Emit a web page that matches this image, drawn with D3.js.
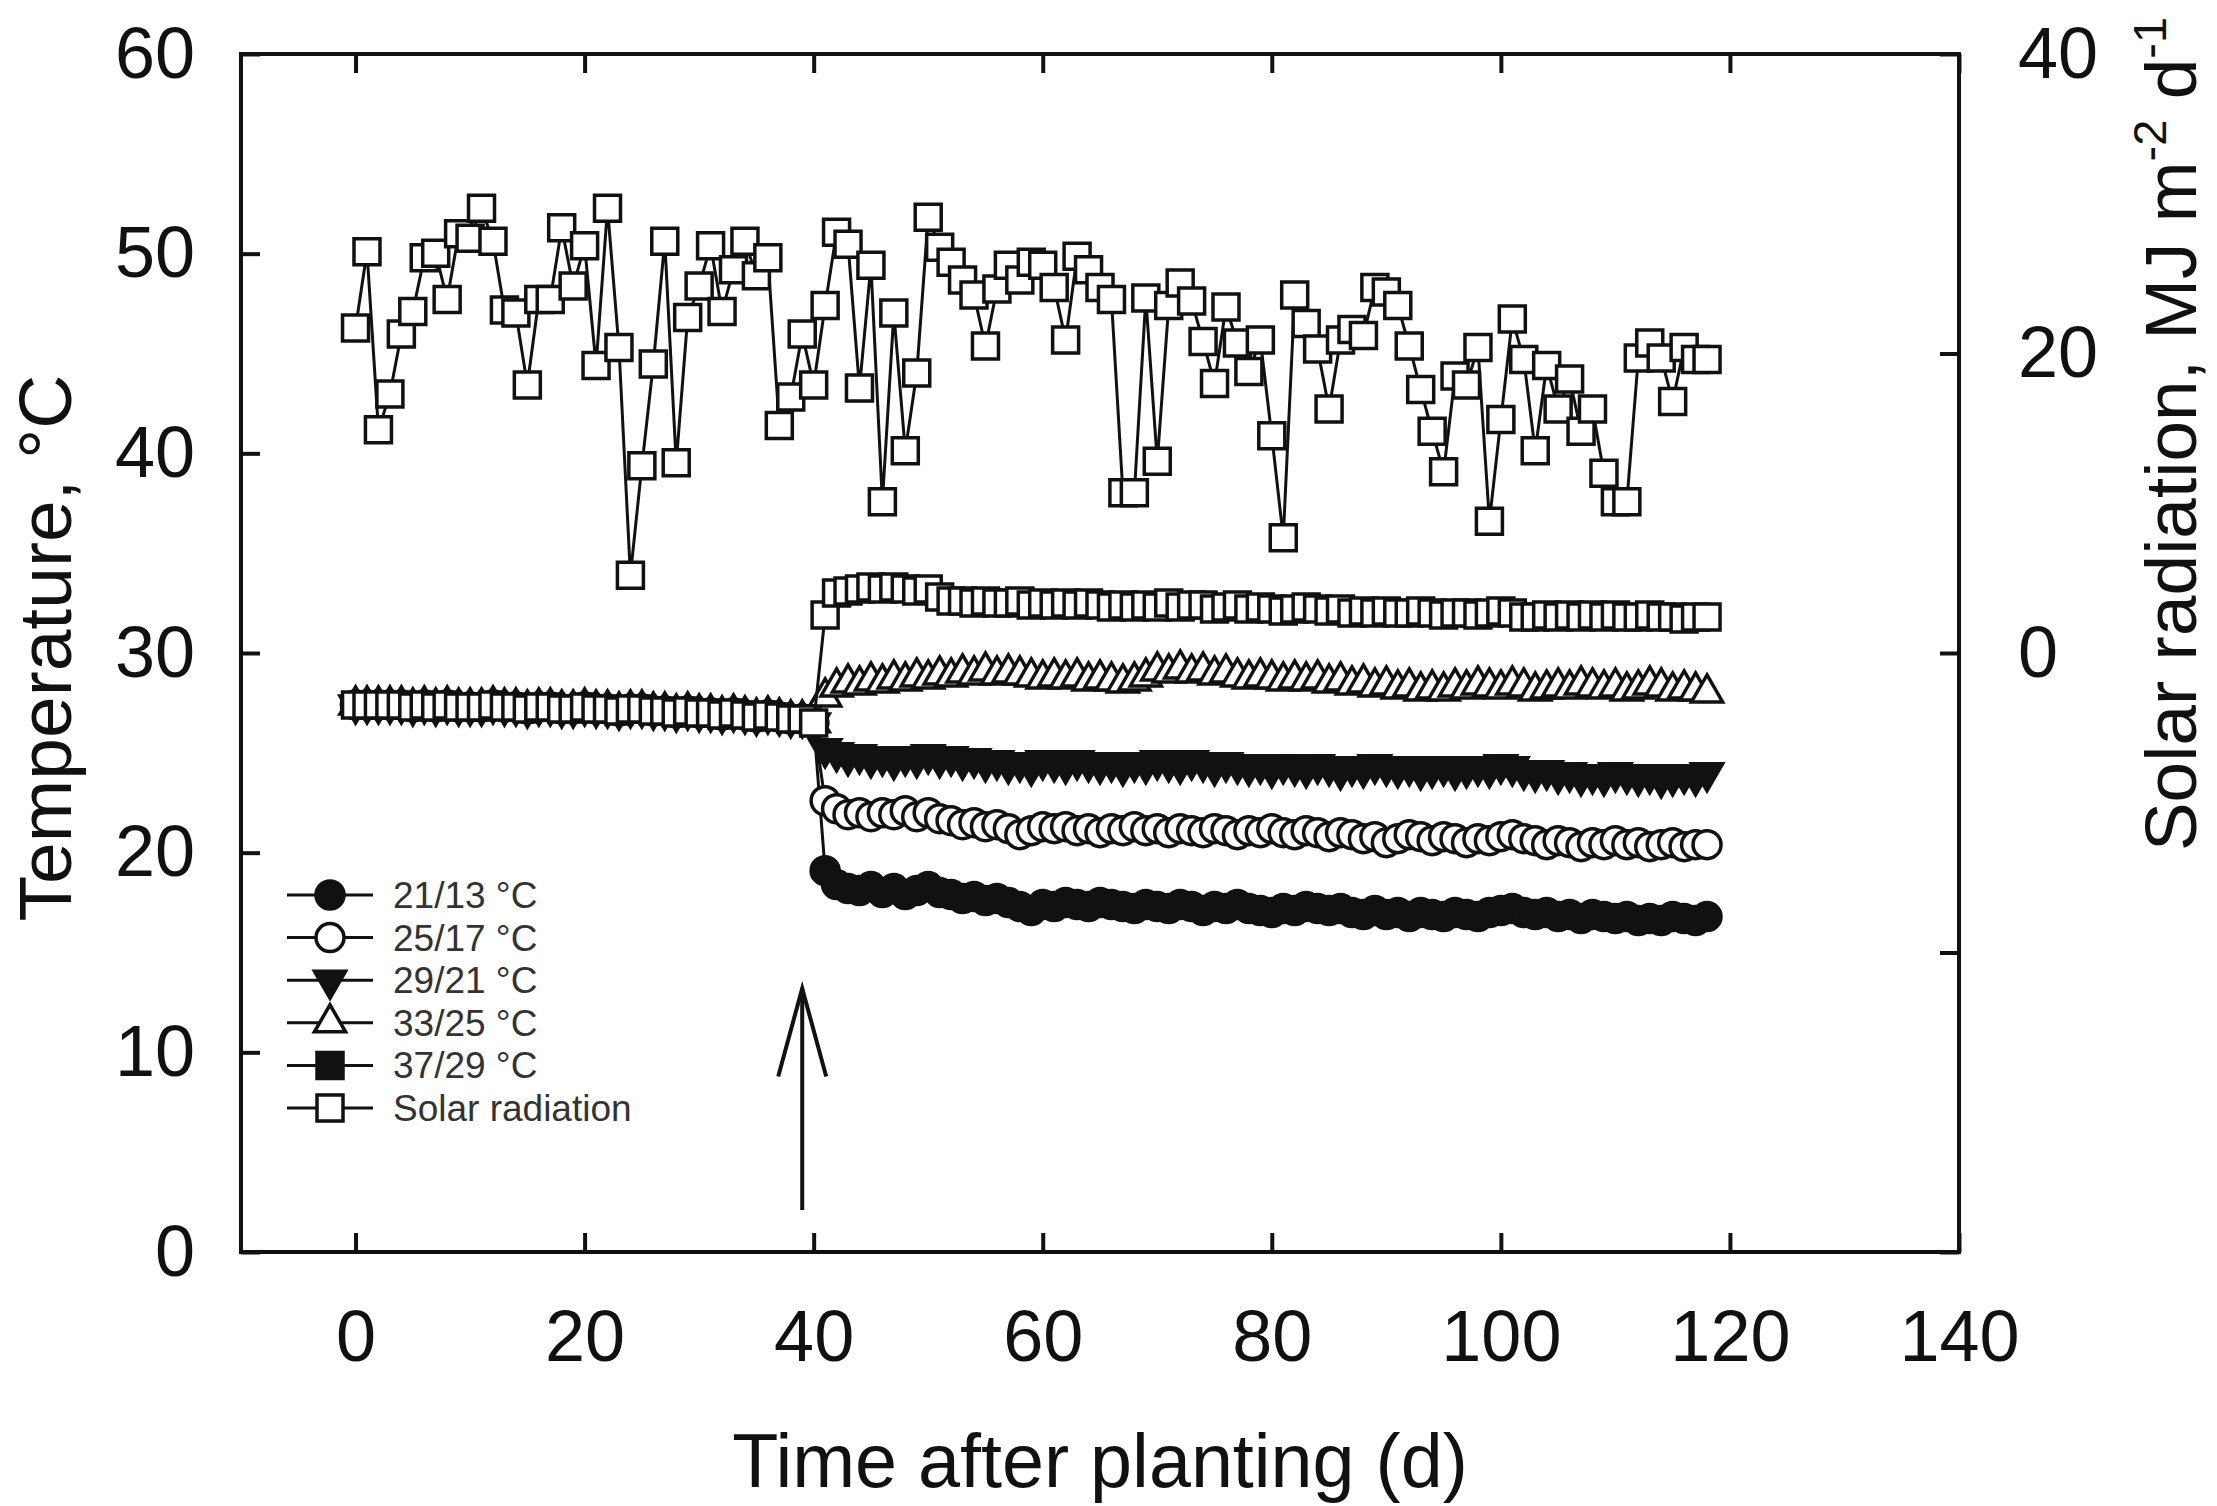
<!DOCTYPE html>
<html>
<head>
<meta charset="utf-8">
<script src="https://cdnjs.cloudflare.com/ajax/libs/d3/7.8.5/d3.min.js"></script>
<style>
	body { margin: 0; background: #fff; }
	svg text { font-family: 'Liberation Sans', Arial, sans-serif; }
</style>
</head>
<body>
<div id="chart"></div>
<script>
// Mean daily air temperature in the chambers before treatments began (days 0-40), same for all
const pretreatment = [
	27.4, 27.4, 27.4, 27.4, 27.4, 27.3, 27.4, 27.3, 27.4, 27.3,
	27.3, 27.3, 27.4, 27.3, 27.3, 27.2, 27.3, 27.3, 27.2, 27.2,
	27.3, 27.2, 27.2, 27.1, 27.2, 27.2, 27.1, 27.1, 27.0, 27.1,
	27.0, 27.0, 26.9, 27.0, 26.9, 26.8, 26.9, 26.8, 26.7, 26.7,
	26.5
];
const treatmentStartDay = 41;

// Mean daily temperature per treatment, days 41-118
const temp21_13 = [
	19.1, 18.4, 18.2, 18.1, 18.3, 18.0, 18.2, 17.9, 18.1, 18.3,
	18.0, 17.9, 17.7, 17.8, 17.6, 17.7, 17.5, 17.3, 17.1, 17.4,
	17.3, 17.5, 17.4, 17.3, 17.5, 17.4, 17.3, 17.2, 17.4, 17.3,
	17.2, 17.4, 17.3, 17.1, 17.3, 17.2, 17.4, 17.2, 17.1, 17.0,
	17.2, 17.1, 17.3, 17.2, 17.1, 17.2, 17.0, 16.9, 17.1, 16.9,
	17.0, 16.8, 17.0, 16.9, 16.8, 17.0, 16.9, 16.8, 17.0, 17.1,
	17.2, 17.0, 16.9, 17.0, 16.8, 16.9, 16.7, 16.9, 16.8, 16.7,
	16.8, 16.6, 16.7, 16.6, 16.8, 16.7, 16.6, 16.8
];
const temp25_17 = [
	22.6, 22.2, 21.9, 22.0, 21.8, 22.0, 21.9, 22.1, 21.8, 22.0,
	21.7, 21.6, 21.4, 21.5, 21.3, 21.4, 21.2, 20.9, 21.1, 21.3,
	21.2, 21.3, 21.1, 21.2, 21.0, 21.2, 21.1, 21.3, 21.1, 21.2,
	21.0, 21.2, 21.1, 21.0, 21.2, 21.1, 20.9, 21.1, 21.0, 21.2,
	21.0, 20.9, 21.1, 21.0, 20.8, 21.0, 20.9, 20.7, 20.8, 20.5,
	20.7, 20.9, 20.8, 20.6, 20.8, 20.7, 20.5, 20.7, 20.6, 20.8,
	20.9, 20.7, 20.6, 20.4, 20.6, 20.5, 20.3, 20.5, 20.4, 20.6,
	20.4, 20.5, 20.3, 20.4, 20.5, 20.3, 20.4, 20.4
];
const temp29_21 = [
	25.2, 25.0, 24.8, 24.9, 24.7, 24.8, 24.6, 24.8, 24.7, 24.9,
	24.7, 24.8, 24.6, 24.7, 24.5, 24.6, 24.4, 24.5, 24.3, 24.6,
	24.5, 24.4, 24.6, 24.5, 24.4, 24.5, 24.3, 24.5, 24.4, 24.6,
	24.5, 24.4, 24.6, 24.5, 24.3, 24.5, 24.4, 24.3, 24.4, 24.2,
	24.4, 24.3, 24.2, 24.4, 24.3, 24.1, 24.3, 24.2, 24.4, 24.3,
	24.2, 24.3, 24.1, 24.2, 24.3, 24.1, 24.2, 24.3, 24.2, 24.4,
	24.3, 24.1, 24.0, 24.1, 23.9, 24.0, 23.8, 23.9, 23.8, 24.0,
	23.9, 23.8, 23.9, 23.7, 23.8, 23.9, 23.8, 24.0
];
const temp33_25 = [
	27.8, 28.3, 28.5, 28.4, 28.6, 28.5, 28.7, 28.6, 28.8, 28.7,
	28.9, 28.8, 29.0, 28.9, 29.1, 28.9, 29.0, 28.9, 28.8, 28.7,
	28.8, 28.7, 28.8, 28.6, 28.7, 28.6, 28.5, 28.6, 28.8, 29.1,
	29.0, 29.2, 29.0, 29.1, 28.9, 29.0, 28.8, 28.7, 28.8, 28.7,
	28.6, 28.7, 28.6, 28.7, 28.5, 28.6, 28.4, 28.5, 28.3, 28.4,
	28.2, 28.3, 28.1, 28.2, 28.1, 28.3, 28.2, 28.4, 28.3, 28.2,
	28.4, 28.3, 28.1, 28.2, 28.3, 28.2, 28.4, 28.3, 28.2, 28.3,
	28.1, 28.2, 28.4, 28.3, 28.1, 28.2, 28.1, 28.0
];
const temp37_29 = [
	31.9, 33.0, 33.1, 33.2, 33.3, 33.2, 33.3, 33.2, 33.1, 33.2,
	32.8, 32.6, 32.6, 32.5, 32.6, 32.5, 32.5, 32.6, 32.4, 32.5,
	32.4, 32.5, 32.4, 32.5, 32.4, 32.3, 32.4, 32.3, 32.4, 32.3,
	32.5, 32.3, 32.4, 32.4, 32.2, 32.3, 32.4, 32.2, 32.3, 32.2,
	32.1, 32.2, 32.3, 32.2, 32.1, 32.2, 32.0, 32.1, 32.0, 32.1,
	32.0, 32.0, 32.1, 32.0, 31.9, 32.0, 32.0, 31.9, 32.0, 32.1,
	32.0, 31.8, 31.8, 31.9, 31.8, 31.9, 31.8, 31.9, 31.8, 31.9,
	31.8, 31.8, 31.9, 31.8, 31.8, 31.7, 31.8, 31.8
];

// Daily solar radiation (MJ m-2 d-1), days 0-118, right axis
const solarRadiation = [
	21.7, 26.8, 14.9, 17.3, 21.3, 22.8, 26.4, 26.7, 23.6, 28.0,
	27.7, 29.7, 27.5, 22.9, 22.7, 17.9, 23.6, 23.6, 28.4, 24.5,
	27.2, 19.2, 29.7, 20.4, 5.2, 12.5, 19.3, 27.5, 12.7, 22.4,
	24.5, 27.2, 22.8, 25.6, 27.5, 25.2, 26.4, 15.2, 17.1, 21.3,
	17.9, 23.2, 28.1, 27.3, 17.7, 25.9, 10.1, 22.7, 13.5, 18.7,
	29.1, 27.1, 26.1, 24.9, 23.9, 20.5, 24.3, 25.9, 24.9, 26.1,
	25.9, 24.4, 20.9, 26.5, 25.6, 24.4, 23.6, 10.7, 10.7, 23.7,
	12.8, 23.2, 24.7, 23.5, 20.8, 18.0, 23.1, 20.7, 18.8, 20.9,
	14.5, 7.7, 23.9, 22.0, 20.3, 16.3, 20.9, 21.6, 21.2, 24.4,
	24.1, 23.2, 20.5, 17.6, 14.8, 12.1, 18.5, 17.9, 20.4, 8.8,
	15.6, 22.3, 19.6, 13.5, 19.2, 16.3, 18.3, 14.8, 16.3, 12.0,
	10.1, 10.1, 19.7, 20.7, 19.7, 16.8, 20.4, 19.6, 19.6
];

const seriesNames = ['21/13 °C', '25/17 °C', '29/21 °C', '33/25 °C', '37/29 °C', 'Solar radiation'];
const xTicks = [0, 20, 40, 60, 80, 100, 120, 140];
const yTicks = [0, 10, 20, 30, 40, 50, 60];
const radTicks = [-40, -20, 0, 20, 40];

// Arrow marking the start of the temperature treatments
const arrowDay = 39;
const arrowBase = 2.1;
const arrowTip = 13.2;

const width = 2217, height = 1506;
const frame = {left: 241, right: 1959, top: 54, bottom: 1252};
const tickLen = 19;
const ink = '#111';

const svg = d3.select('#chart').append('svg')
	.attr('width', width)
	.attr('height', height);

const xScale = d3.scaleLinear().domain([-10, 140]).range([frame.left, frame.right]);
const yScale = d3.scaleLinear().domain([0, 60]).range([frame.bottom, frame.top]);
const radScale = d3.scaleLinear().domain([-40, 40]).range([frame.bottom, frame.top]);

//Axes, all ticks pointing inwards
svg.append('g')
	.attr('transform', `translate(0,${frame.bottom})`)
	.call(d3.axisBottom(xScale).tickValues(xTicks).tickSize(-tickLen).tickPadding(58));
svg.append('g')
	.attr('transform', `translate(0,${frame.top})`)
	.call(d3.axisTop(xScale).tickValues(xTicks).tickSize(-tickLen).tickFormat(''));
svg.append('g')
	.attr('transform', `translate(${frame.left},0)`)
	.call(d3.axisLeft(yScale).tickValues(yTicks).tickSize(-tickLen).tickPadding(46));
svg.append('g')
	.attr('transform', `translate(${frame.right},0)`)
	.call(d3.axisRight(radScale).tickValues(radTicks).tickSize(-tickLen).tickPadding(59)
		.tickFormat(d => d >= 0 ? d : ''));

svg.selectAll('.domain').remove();
svg.selectAll('.tick line').attr('stroke', ink).attr('stroke-width', 4);
svg.selectAll('.tick text').attr('font-size', 72).attr('fill', ink);

svg.append('rect')
	.attr('x', frame.left)
	.attr('y', frame.top)
	.attr('width', frame.right - frame.left)
	.attr('height', frame.bottom - frame.top)
	.attr('fill', 'none')
	.attr('stroke', ink)
	.attr('stroke-width', 4);

//Marker styles (the 37/29 series is drawn with open squares in the figure)
const markers = {
	filledCircle: {type: d3.symbolCircle, size: 616, fill: ink, rotate: 0},
	openCircle: {type: d3.symbolCircle, size: 616, fill: '#fff', rotate: 0},
	filledDown: {type: d3.symbolTriangle, size: 420, fill: ink, rotate: 180},
	openUp: {type: d3.symbolTriangle, size: 420, fill: '#fff', rotate: 0},
	filledSquare: {type: d3.symbolSquare, size: 676, fill: ink, rotate: 0},
	openSquare: {type: d3.symbolSquare, size: 676, fill: '#fff', rotate: 0}
};

const toPoints = (values, startDay) => values.map((v, i) => ({day: startDay + i, value: v}));
const withPre = values => toPoints(pretreatment, 0).concat(toPoints(values, treatmentStartDay));

const series = [
	{name: seriesNames[0], points: withPre(temp21_13), scale: yScale, marker: markers.filledCircle},
	{name: seriesNames[1], points: withPre(temp25_17), scale: yScale, marker: markers.openCircle},
	{name: seriesNames[2], points: withPre(temp29_21), scale: yScale, marker: markers.filledDown},
	{name: seriesNames[3], points: withPre(temp33_25), scale: yScale, marker: markers.openUp},
	{name: seriesNames[4], points: withPre(temp37_29), scale: yScale, marker: markers.openSquare},
	{name: seriesNames[5], points: toPoints(solarRadiation, 0), scale: radScale, marker: markers.openSquare}
];
const legendMarkers = [markers.filledCircle, markers.openCircle, markers.filledDown,
	markers.openUp, markers.filledSquare, markers.openSquare];

function drawSymbol(sel, m) {
	sel.attr('d', d3.symbol().type(m.type).size(m.size)())
		.attr('fill', m.fill)
		.attr('stroke', ink)
		.attr('stroke-width', 3.5);
}

series.forEach(s => {
	const g = svg.append('g').attr('class', 'series');
	g.append('path')
		.datum(s.points)
		.attr('fill', 'none')
		.attr('stroke', ink)
		.attr('stroke-width', 3)
		.attr('d', d3.line().x(d => xScale(d.day)).y(d => s.scale(d.value)));
	g.selectAll('path.mark')
		.data(s.points)
		.join('path')
		.attr('class', 'mark')
		.attr('transform', d => `translate(${xScale(d.day)},${s.scale(d.value)}) rotate(${s.marker.rotate})`)
		.call(drawSymbol, s.marker);
});

//Arrow
const ax = xScale(arrowDay);
const tipY = yScale(arrowTip);
svg.append('line')
	.attr('x1', ax).attr('x2', ax)
	.attr('y1', yScale(arrowBase)).attr('y2', tipY)
	.attr('stroke', ink).attr('stroke-width', 4);
svg.append('path')
	.attr('d', `M${ax - 24},${tipY + 88}L${ax},${tipY}L${ax + 24},${tipY + 88}`)
	.attr('fill', 'none').attr('stroke', ink).attr('stroke-width', 4);

//Legend
const legend = svg.append('g').attr('transform', 'translate(287,895)');
seriesNames.forEach((name, i) => {
	const row = legend.append('g').attr('transform', `translate(0,${i * 42.6})`);
	row.append('line')
		.attr('x1', 0).attr('x2', 86)
		.attr('stroke', ink).attr('stroke-width', 3);
	row.append('path')
		.attr('transform', `translate(43,0) rotate(${legendMarkers[i].rotate})`)
		.call(drawSymbol, legendMarkers[i]);
	row.append('text')
		.attr('x', 106)
		.attr('dy', '0.35em')
		.attr('font-size', 37)
		.attr('fill', '#333')
		.text(name);
});

//Axis titles
svg.append('text')
	.attr('x', 1100).attr('y', 1487)
	.attr('text-anchor', 'middle')
	.attr('font-size', 75.5)
	.attr('fill', ink)
	.text('Time after planting (d)');

svg.append('text')
	.attr('transform', 'translate(71,648) rotate(-90)')
	.attr('text-anchor', 'middle')
	.attr('font-size', 75)
	.attr('fill', ink)
	.text('Temperature, °C');

const radTitle = svg.append('text')
	.attr('transform', 'translate(2196,434) rotate(-90)')
	.attr('text-anchor', 'middle')
	.attr('font-size', 73)
	.attr('fill', ink);
radTitle.append('tspan').text('Solar radiation, MJ m');
radTitle.append('tspan').attr('font-size', 47).attr('dy', -30).text('-2');
radTitle.append('tspan').attr('dy', 30).text(' d');
radTitle.append('tspan').attr('font-size', 47).attr('dy', -30).text('-1');
</script>
</body>
</html>
